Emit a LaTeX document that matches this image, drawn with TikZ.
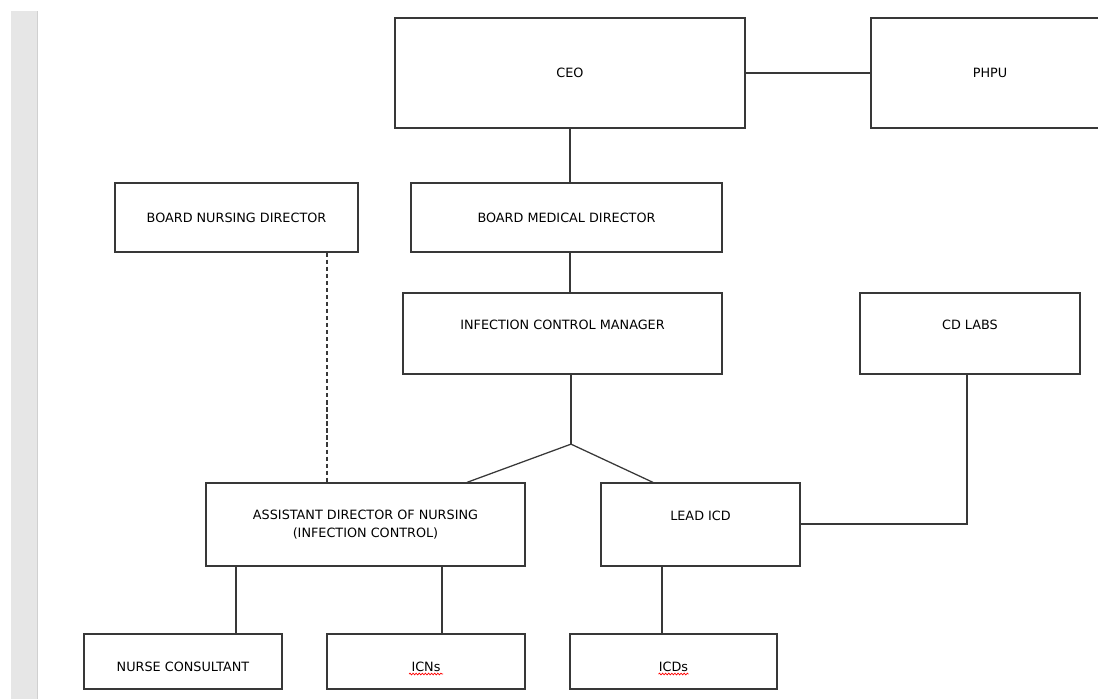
\documentclass[tikz,border=0pt]{standalone}
\usepackage{fontspec}
\setmainfont{DejaVu Sans}
\usetikzlibrary{calc,decorations.pathmorphing}
\definecolor{strip}{HTML}{E6E6E6}
\definecolor{stripedge}{HTML}{D0D0D0}
\definecolor{ink}{HTML}{383838}

\begin{document}
\begin{tikzpicture}[x=0.025cm,y=-0.025cm,font=\fontsize{9.1}{12.8}\selectfont,
    box/.style={draw=ink,line width=0.9pt,rectangle,inner sep=0pt},
    hi/.style={text height=6.5pt,text depth=11.5pt},
    lo/.style={text height=14.5pt,text depth=0pt},
    link/.style={draw=ink,line width=0.9pt},
    squig/.style={red,line width=0.5pt,decorate,
      decoration={snake,amplitude=0.6pt,segment length=2.2pt}}]
  \def\u{0.025cm}
  \useasboundingbox (0,0) rectangle (1098,699);
  % page edge
  \fill[strip] (11,11) rectangle (38,699);
  \draw[stripedge] (37.5,11) -- (37.5,699);

  % top
  \node[box,minimum width=350*\u,minimum height=110*\u] (ceo) at (570,73) {CEO};
  \node[box,minimum width=238*\u,minimum height=110*\u] (phpu) at (990,73) {PHPU};
  \node[box,minimum width=243*\u,minimum height=69*\u] (bnd) at (236.5,217.5) {BOARD NURSING DIRECTOR};
  \node[box,minimum width=311*\u,minimum height=69*\u] (bmd) at (566.5,217.5) {BOARD MEDICAL DIRECTOR};
  \node[box,hi,minimum width=319*\u,minimum height=81*\u] (icm) at (562.5,333.5) {INFECTION CONTROL MANAGER};
  \node[box,hi,minimum width=220*\u,minimum height=81*\u] (cdl) at (970,333.5) {CD LABS};
  % middle
  \node[box,align=center,minimum width=319*\u,minimum height=83*\u] (adn) at (365.5,524.5)
    {ASSISTANT DIRECTOR OF NURSING\\(INFECTION CONTROL)};
  \node[box,hi,minimum width=199*\u,minimum height=83*\u] (licd) at (700.5,524.5) {LEAD ICD};
  % bottom
  \node[box,lo,minimum width=198*\u,minimum height=55*\u] (nc) at (183,661.5) {NURSE CONSULTANT};
  \node[box,lo,minimum width=198*\u,minimum height=55*\u] (icns) at (426,661.5) {ICNs};
  \node[box,lo,minimum width=207*\u,minimum height=55*\u] (icds) at (673.5,661.5) {ICDs};
  \draw[squig] ($(icns)+(-17,12.5)$) -- ++(34,0);
  \draw[squig] ($(icds)+(-15,12.5)$) -- ++(30,0);

  % links
  \draw[link] (ceo.east) -- (phpu.west);
  \draw[link] (ceo.south) -- (ceo.south |- bmd.north);
  \draw[link] (bmd.south -| ceo.south) -- (icm.north -| ceo.south);
  \coordinate (fork) at ($(icm.south)+(8.5,69.5)$);
  \draw[link] (icm.south -| fork) -- (fork);
  \draw[link] (fork) -- ($(adn.north)+(101.5,0)$);
  \draw[link] (fork) -- ($(licd.north)+(-47.5,0)$);
  \coordinate (bndtap) at ($(bnd.south)+(90.5,0)$);
  \draw[link,dash pattern=on 3pt off 2pt] (bndtap) -- (bndtap |- adn.north);
  \coordinate (labtap) at ($(cdl.south)+(-3,0)$);
  \draw[link] (labtap) |- ($(licd.east)+(0,-0.5)$);
  \foreach \up/\dx/\kid in {adn/-129.5/nc,adn/76.5/icns,licd/-38.5/icds} {
    \coordinate (tap) at ($(\up.south)+(\dx,0)$);
    \draw[link] (tap) -- (tap |- \kid.north);
  }
\end{tikzpicture}
\end{document}
